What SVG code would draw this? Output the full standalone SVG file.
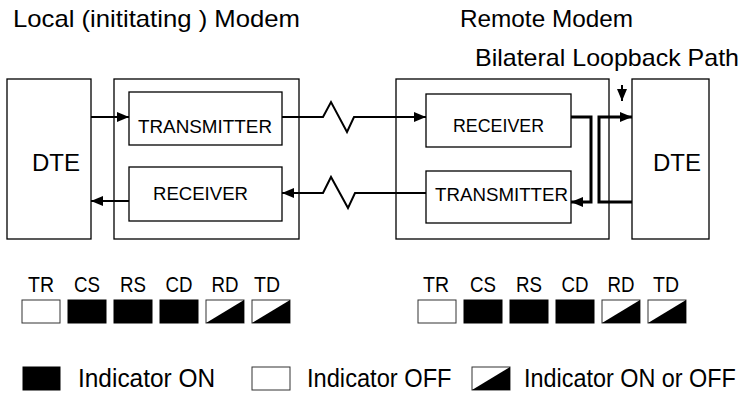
<svg xmlns="http://www.w3.org/2000/svg" width="746" height="393" viewBox="0 0 746 393">
<style>
text{font-family:"Liberation Sans",Arial,sans-serif;fill:#000}
.box{fill:#fff;stroke:#000;stroke-width:1.3}
.title{font-size:24px}
.dte{font-size:24px}
.unit{font-size:18px}
.lbl{font-size:22px;text-anchor:middle}
.leg{font-size:26px}
.c{fill:none;stroke:#000;stroke-width:2}
.loop{fill:none;stroke:#000;stroke-width:3}
.off{fill:#fff;stroke:#333;stroke-width:1}
.on{fill:#000;stroke:#000;stroke-width:1}
</style>
<defs>
<marker id="ah" markerUnits="userSpaceOnUse" markerWidth="12" markerHeight="10" refX="12" refY="5" orient="auto">
<path d="M0,0 L12,5 L0,10 z" fill="#000"/>
</marker>
<g id="half">
<rect class="off" x="0" y="0" width="38" height="23"/>
<path d="M0,23 L38,0 L38,23 z" fill="#000"/>
</g>
</defs>
<rect width="746" height="393" fill="#fff"/>

<text class="title" x="13" y="27" textLength="287" lengthAdjust="spacingAndGlyphs">Local (inititating ) Modem</text>
<text class="title" x="460" y="27" textLength="173" lengthAdjust="spacingAndGlyphs">Remote Modem</text>
<text class="title" x="475" y="66" textLength="264" lengthAdjust="spacingAndGlyphs">Bilateral Loopback Path</text>

<g id="dte-left">
<rect class="box" x="7" y="79" width="84" height="160"/>
<text class="dte" x="32" y="171">DTE</text>
</g>
<g id="local-modem">
<rect class="box" x="114" y="79" width="185" height="160"/>
</g>
<g id="local-tx">
<rect class="box" x="129" y="92" width="153" height="53"/>
<text class="unit" x="138" y="133" textLength="134" lengthAdjust="spacingAndGlyphs">TRANSMITTER</text>
</g>
<g id="local-rx">
<rect class="box" x="129" y="167" width="153" height="54"/>
<text class="unit" x="153" y="200" textLength="95" lengthAdjust="spacingAndGlyphs">RECEIVER</text>
</g>
<g id="remote-modem">
<rect class="box" x="396" y="79" width="213" height="160"/>
</g>
<g id="remote-rx">
<rect class="box" x="426" y="94" width="145" height="53"/>
<text class="unit" x="453" y="132" textLength="91" lengthAdjust="spacingAndGlyphs">RECEIVER</text>
</g>
<g id="remote-tx">
<rect class="box" x="426" y="171" width="145" height="52"/>
<text class="unit" x="435" y="201" textLength="133" lengthAdjust="spacingAndGlyphs">TRANSMITTER</text>
</g>
<g id="dte-right">
<rect class="box" x="632" y="79" width="77" height="160"/>
<text class="dte" x="653" y="171">DTE</text>
</g>

<g id="connectors">
<line class="c" x1="91" y1="117" x2="129" y2="117" marker-end="url(#ah)"/>
<polyline class="c" points="282,117 323,117 331,102 347,132 354,117 426,117" marker-end="url(#ah)"/>
<polyline class="c" points="426,193 355,193 348,208 331,177 323,193 282,193" marker-end="url(#ah)"/>
<line class="c" x1="129" y1="201" x2="91" y2="201" marker-end="url(#ah)"/>
<polyline class="loop" points="571,117 591,117 591,202 571,202" marker-end="url(#ah)"/>
<polyline class="loop" points="632,202 599,202 599,117 632,117" marker-end="url(#ah)"/>
<line class="c" x1="622" y1="85" x2="622" y2="101" marker-end="url(#ah)"/>
</g>

<g id="local-indicators">
<text class="lbl" x="41" y="292" textLength="26" lengthAdjust="spacingAndGlyphs">TR</text>
<text class="lbl" x="87" y="292" textLength="26" lengthAdjust="spacingAndGlyphs">CS</text>
<text class="lbl" x="133" y="292" textLength="26" lengthAdjust="spacingAndGlyphs">RS</text>
<text class="lbl" x="179" y="292" textLength="27" lengthAdjust="spacingAndGlyphs">CD</text>
<text class="lbl" x="225" y="292" textLength="27" lengthAdjust="spacingAndGlyphs">RD</text>
<text class="lbl" x="267" y="292" textLength="26" lengthAdjust="spacingAndGlyphs">TD</text>
<rect class="off" x="22" y="300" width="38" height="23"/>
<rect class="on" x="68" y="300" width="38" height="23"/>
<rect class="on" x="114" y="300" width="38" height="23"/>
<rect class="on" x="160" y="300" width="38" height="23"/>
<use href="#half" x="206" y="300"/>
<use href="#half" x="252" y="300"/>
</g>

<g id="remote-indicators">
<text class="lbl" x="436" y="292" textLength="26" lengthAdjust="spacingAndGlyphs">TR</text>
<text class="lbl" x="483" y="292" textLength="26" lengthAdjust="spacingAndGlyphs">CS</text>
<text class="lbl" x="529" y="292" textLength="26" lengthAdjust="spacingAndGlyphs">RS</text>
<text class="lbl" x="575" y="292" textLength="27" lengthAdjust="spacingAndGlyphs">CD</text>
<text class="lbl" x="621" y="292" textLength="27" lengthAdjust="spacingAndGlyphs">RD</text>
<text class="lbl" x="666" y="292" textLength="26" lengthAdjust="spacingAndGlyphs">TD</text>
<rect class="off" x="418" y="300" width="38" height="23"/>
<rect class="on" x="464" y="300" width="38" height="23"/>
<rect class="on" x="510" y="300" width="38" height="23"/>
<rect class="on" x="556" y="300" width="38" height="23"/>
<use href="#half" x="602" y="300"/>
<use href="#half" x="648" y="300"/>
</g>

<g id="legend">
<rect class="on" x="23" y="367" width="37" height="23"/>
<text class="leg" transform="translate(78,387) scale(0.94,1)">Indicator ON</text>
<rect class="off" x="252" y="367" width="38" height="23"/>
<text class="leg" transform="translate(307,387) scale(0.91,1)">Indicator OFF</text>
<use href="#half" x="472" y="367"/>
<text class="leg" transform="translate(524,387) scale(0.9,1)">Indicator ON or OFF</text>
</g>
</svg>
